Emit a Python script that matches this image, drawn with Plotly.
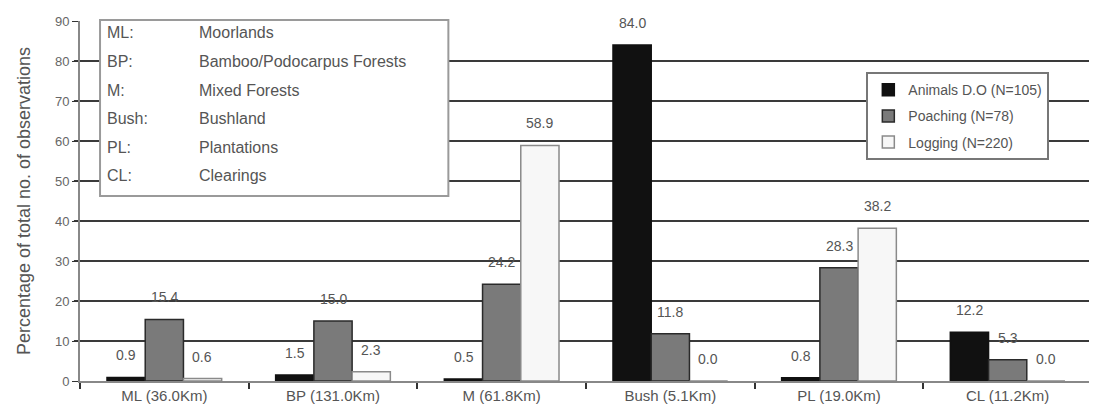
import plotly.graph_objects as go

categories = ["ML (36.0Km)", "BP (131.0Km)", "M (61.8Km)", "Bush (5.1Km)", "PL (19.0Km)", "CL (11.2Km)"]
series_names = ["Animals D.O (N=105)", "Poaching (N=78)", "Logging (N=220)"]
animals = [0.9, 1.5, 0.5, 84.0, 0.8, 12.2]
poaching = [15.4, 15.0, 24.2, 11.8, 28.3, 5.3]
logging_ = [0.6, 2.3, 58.9, 0.0, 38.2, 0.0]
grid_values = [10, 20, 30, 40, 50, 60, 70, 80]
key_abbr = ["ML:", "BP:", "M:", "Bush:", "PL:", "CL:"]
key_desc = ["Moorlands", "Bamboo/Podocarpus Forests", "Mixed Forests", "Bushland", "Plantations", "Clearings"]

series = [animals, poaching, logging_]
fills = ["#111111", "#7a7a7a", "#f7f7f7"]
lines = ["#111111", "#2a2a2a", "#8a8a8a"]
FONT = "Liberation Sans, Arial, sans-serif"

fig = go.Figure()
for i, (name, vals) in enumerate(zip(series_names, series)):
    fig.add_trace(go.Bar(
        x=categories, y=vals, name=name,
        marker=dict(color=fills[i], line=dict(color=lines[i], width=1.5)),
        legendgroup=str(i),
    ))

shapes = []
for g in grid_values:
    shapes.append(dict(type="line", xref="paper", yref="y", x0=-0.006, x1=1, y0=g, y1=g,
                       line=dict(color="#3a3a3a", width=2), layer="below"))
# key box
shapes.append(dict(type="rect", xref="paper", yref="paper", x0=0.0198, x1=0.364, y0=0.514, y1=1.003,
                   line=dict(color="#9a9a9a", width=2), fillcolor="white", layer="above"))

annotations = []
offsets = [-38, 0, 38]
for i, vals in enumerate(series):
    for c, v in zip(categories, vals):
        annotations.append(dict(x=c, y=v, xref="x", yref="y", text=f"{v:.1f}", showarrow=False,
                                xshift=offsets[i], yshift=22, yanchor="middle",
                                font=dict(family=FONT, size=14, color="#555555")))
for k, (a, d) in enumerate(zip(key_abbr, key_desc)):
    yy = 0.967 - k * 0.0795
    annotations.append(dict(x=0.0247, y=yy, xref="paper", yref="paper", text=a, showarrow=False,
                            xanchor="left", yanchor="middle",
                            font=dict(family=FONT, size=16, color="#555555")))
    annotations.append(dict(x=0.1156, y=yy, xref="paper", yref="paper", text=d, showarrow=False,
                            xanchor="left", yanchor="middle",
                            font=dict(family=FONT, size=16, color="#555555")))

fig.update_layout(
    width=1089, height=403,
    margin=dict(l=72, r=5, t=13, b=30),
    paper_bgcolor="white", plot_bgcolor="white",
    barmode="group", bargap=0.32, bargroupgap=0,
    font=dict(family=FONT, color="#555555"),
    shapes=shapes, annotations=annotations,
    legend=dict(x=0.777, y=0.858, xanchor="left", yanchor="top",
                bgcolor="white", bordercolor="#777777", borderwidth=2,
                font=dict(family=FONT, size=14, color="#555555"),
                tracegroupgap=5, itemwidth=30),
    xaxis=dict(showline=True, linecolor="#888888", linewidth=2, ticks="outside", ticklen=6,
               tickcolor="#333333", tickwidth=1.5, tickson="boundaries",
               tickfont=dict(family=FONT, size=15, color="#555555"), showgrid=False),
    yaxis=dict(range=[0, 90], dtick=10, showline=True, linecolor="#888888", linewidth=2,
               ticks="outside", ticklen=6, tickcolor="#333333", showgrid=False, zeroline=False,
               tickfont=dict(family=FONT, size=13, color="#666666"),
               title=dict(text="Percentage of total no. of observations",
                          font=dict(family=FONT, size=18, color="#555555"), standoff=20)),
)

fig.write_html("out.html")
